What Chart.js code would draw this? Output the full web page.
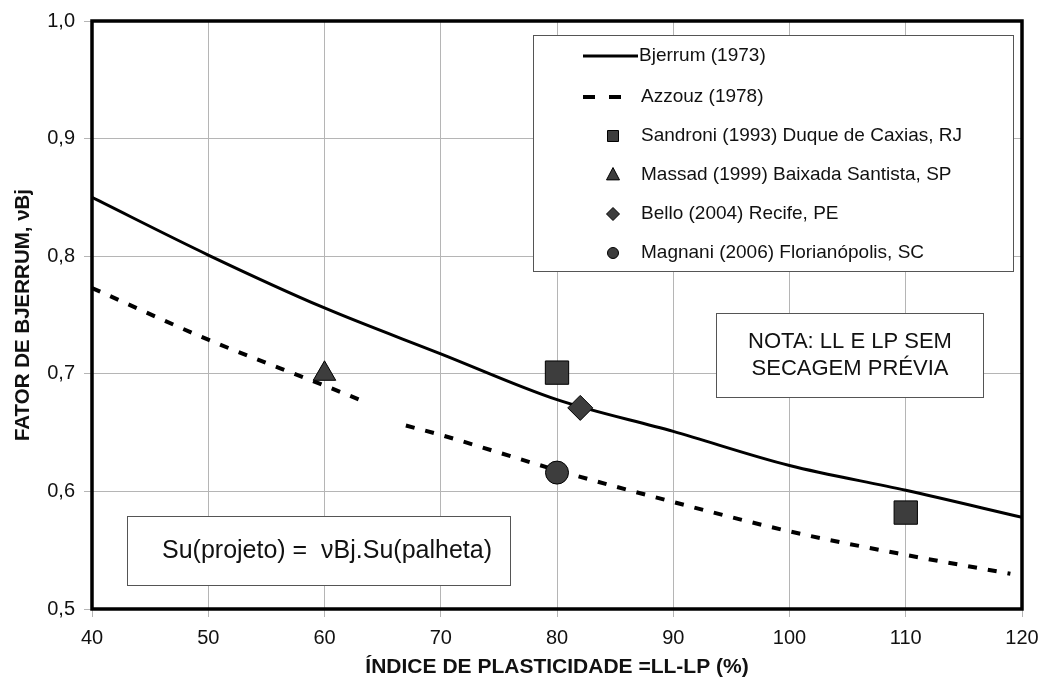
<!DOCTYPE html>
<html>
<head>
<meta charset="utf-8">
<script src="https://cdn.jsdelivr.net/npm/chart.js@4/dist/chart.umd.min.js"></script>
<style>
  html, body { margin: 0; padding: 0; background: #fff; }
  #wrap { width: 1048px; height: 689px; }
</style>
</head>
<body>
<div id="wrap"><canvas id="chart" width="1048" height="689"></canvas></div>
<script>
/* ---------------- Data ---------------- */
const xTicks = [40, 50, 60, 70, 80, 90, 100, 110, 120];
const yTicks = [0.5, 0.6, 0.7, 0.8, 0.9, 1.0];

const piBjerrum = [40, 50, 60, 70, 80, 90, 100, 110, 120];
const muBjerrum = [0.85, 0.801, 0.756, 0.717, 0.678, 0.651, 0.622, 0.601, 0.578];

// null at 65 leaves the gap in the dashed curve
const piAzzouz = [40, 50, 60, 63, 65, 67, 70, 80, 90, 100, 110, 119];
const muAzzouz = [0.773, 0.729, 0.69, 0.678, null, 0.656, 0.648, 0.618, 0.591, 0.566, 0.546, 0.53];

const piSandroni = [80, 110];
const muSandroni = [0.701, 0.582];
const piMassad = [60];
const muMassad = [0.70];
const piBello = [82];
const muBello = [0.671];
const piMagnani = [80];
const muMagnani = [0.616];

const labels = [
  "Bjerrum (1973)",
  "Azzouz (1978)",
  "Sandroni (1993) Duque de Caxias, RJ",
  "Massad (1999) Baixada Santista, SP",
  "Bello (2004) Recife, PE",
  "Magnani (2006) Florianópolis, SC"
];

const notaLines = ["NOTA: LL E LP SEM", "SECAGEM PRÉVIA"];
const formula = "Su(projeto) =  νBj.Su(palheta)";

/* ---------------- Helpers ---------------- */
const toPoints = (xs, ys) => xs.map((x, i) => ({ x: x, y: ys[i] }));
const FONT = "'Liberation Sans', Arial, sans-serif";
const markFill = "#3d3d3d";

const drawMarker = (ctx, style, x, y, r) => {
  ctx.save();
  ctx.fillStyle = markFill;
  ctx.strokeStyle = "#000";
  ctx.lineWidth = 1;
  ctx.beginPath();
  if (style === "rect") {
    ctx.rect(x - r, y - r, 2 * r, 2 * r);
  } else if (style === "triangle") {
    ctx.moveTo(x, y - r * 1.15);
    ctx.lineTo(x + r, y + r * 0.75);
    ctx.lineTo(x - r, y + r * 0.75);
    ctx.closePath();
  } else if (style === "rectRot") {
    ctx.moveTo(x, y - r * 1.3);
    ctx.lineTo(x + r * 1.3, y);
    ctx.lineTo(x, y + r * 1.3);
    ctx.lineTo(x - r * 1.3, y);
    ctx.closePath();
  } else {
    ctx.arc(x, y, r, 0, Math.PI * 2);
  }
  ctx.fill();
  ctx.stroke();
  ctx.restore();
};

/* ---------------- Plugins ---------------- */
const frameAndBoxes = {
  id: "frameAndBoxes",
  afterDatasetsDraw(chart) {
    const { ctx, chartArea: a } = chart;
    ctx.save();

    // heavy plot frame
    ctx.strokeStyle = "#000";
    ctx.lineWidth = 3.5;
    ctx.strokeRect(a.left, a.top, a.right - a.left, a.bottom - a.top);

    // legend box
    ctx.lineWidth = 1;
    ctx.strokeStyle = "#555";
    ctx.fillStyle = "#fff";
    ctx.fillRect(533, 35, 480, 236);
    ctx.strokeRect(533.5, 35.5, 480, 236);

    ctx.font = "19px " + FONT;
    ctx.fillStyle = "#111";
    ctx.textBaseline = "middle";
    ctx.textAlign = "left";
    const rows = [56, 97, 136, 175, 214, 253];

    ctx.strokeStyle = "#000";
    ctx.lineWidth = 3;
    ctx.beginPath();
    ctx.moveTo(583, rows[0]);
    ctx.lineTo(638, rows[0]);
    ctx.stroke();

    ctx.lineWidth = 4;
    ctx.setLineDash([12, 14]);
    ctx.beginPath();
    ctx.moveTo(583, rows[1]);
    ctx.lineTo(621, rows[1]);
    ctx.stroke();
    ctx.setLineDash([]);

    drawMarker(ctx, "rect", 613, rows[2], 5.5);
    drawMarker(ctx, "triangle", 613, rows[3], 6.5);
    drawMarker(ctx, "rectRot", 613, rows[4], 5);
    drawMarker(ctx, "circle", 613, rows[5], 5.5);

    ctx.fillText(labels[0], 639, rows[0]);
    ctx.fillText(labels[1], 641, rows[1]);
    for (let i = 2; i < labels.length; i++) ctx.fillText(labels[i], 641, rows[i]);

    // NOTA box
    ctx.lineWidth = 1;
    ctx.strokeStyle = "#555";
    ctx.fillStyle = "#fff";
    ctx.fillRect(716, 313, 267, 84);
    ctx.strokeRect(716.5, 313.5, 267, 84);
    ctx.fillStyle = "#111";
    ctx.textAlign = "center";
    ctx.font = "22px " + FONT;
    ctx.fillText(notaLines[0], 850, 342);
    ctx.fillText(notaLines[1], 850, 369);

    // formula box
    ctx.fillStyle = "#fff";
    ctx.fillRect(127, 516, 383, 69);
    ctx.strokeRect(127.5, 516.5, 383, 69);
    ctx.fillStyle = "#111";
    ctx.font = "25px " + FONT;
    ctx.textAlign = "left";
    ctx.fillText(formula, 162, 551);

    ctx.restore();
  }
};

/* ---------------- Chart ---------------- */
const markerSet = (label, xs, ys, style, r) => ({
  label: label,
  data: toPoints(xs, ys),
  showLine: false,
  pointStyle: style,
  pointRadius: r,
  pointBackgroundColor: markFill,
  pointBorderColor: "#000",
  pointBorderWidth: 1,
  order: 0
});

new Chart(document.getElementById("chart"), {
  type: "scatter",
  data: {
    datasets: [
      {
        label: labels[0],
        data: toPoints(piBjerrum, muBjerrum),
        showLine: true,
        borderColor: "#000",
        borderWidth: 3,
        pointRadius: 0,
        cubicInterpolationMode: "monotone",
        order: 2
      },
      {
        label: labels[1],
        data: toPoints(piAzzouz, muAzzouz),
        showLine: true,
        spanGaps: false,
        borderColor: "#000",
        borderWidth: 4,
        borderDash: [9, 11],
        pointRadius: 0,
        cubicInterpolationMode: "monotone",
        order: 2
      },
      // chart.js rect side = radius * sqrt(2)
      markerSet(labels[2], piSandroni, muSandroni, "rect", 16.5),
      markerSet(labels[3], piMassad, muMassad, "triangle", 13),
      markerSet(labels[4], piBello, muBello, "rectRot", 12.5),
      markerSet(labels[5], piMagnani, muMagnani, "circle", 11.5)
    ]
  },
  options: {
    responsive: false,
    animation: false,
    layout: { padding: { top: 21, right: 26, left: 0, bottom: 0 } },
    plugins: {
      legend: { display: false },
      tooltip: { enabled: false }
    },
    scales: {
      x: {
        type: "linear",
        min: 40,
        max: 120,
        afterBuildTicks: s => { s.ticks = xTicks.map(v => ({ value: v })); },
        afterFit: s => { s.height = 80; },
        grid: { color: "#b5b5b5", lineWidth: 1, tickLength: 8 },
        border: { display: false },
        ticks: {
          color: "#111",
          padding: 9,
          font: { family: FONT, size: 20 },
          callback: v => String(v)
        },
        title: {
          display: true,
          text: "ÍNDICE DE PLASTICIDADE =LL-LP (%)",
          color: "#111",
          font: { family: FONT, size: 21, weight: "bold" },
          padding: { top: 0, bottom: 9 }
        }
      },
      y: {
        type: "linear",
        min: 0.5,
        max: 1.0,
        afterBuildTicks: s => { s.ticks = yTicks.map(v => ({ value: v })); },
        afterFit: s => { s.width = 92; },
        grid: { color: "#b5b5b5", lineWidth: 1, tickLength: 8 },
        border: { display: false },
        ticks: {
          color: "#111",
          padding: 9,
          font: { family: FONT, size: 20 },
          callback: v => v.toFixed(1).replace(".", ",")
        },
        title: {
          display: true,
          text: "FATOR DE BJERRUM, νBj",
          color: "#111",
          font: { family: FONT, size: 20.5, weight: "bold" },
          padding: { top: 11, bottom: 0 }
        }
      }
    }
  },
  plugins: [frameAndBoxes]
});
</script>
</body>
</html>
